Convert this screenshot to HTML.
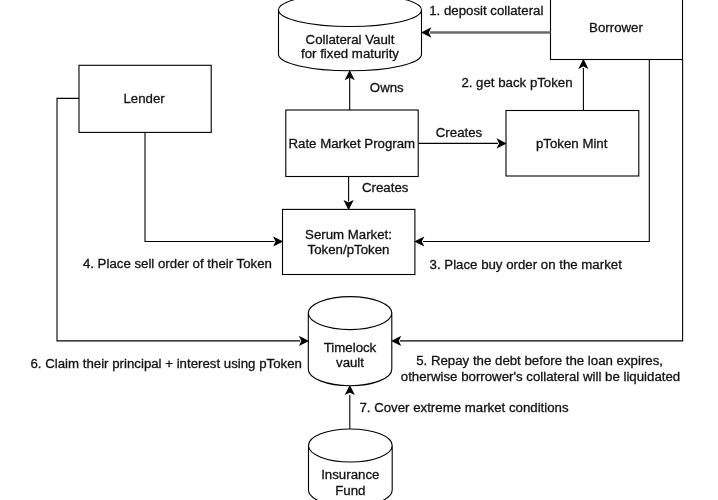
<!DOCTYPE html>
<html><head><meta charset="utf-8">
<style>
html,body{margin:0;padding:0;background:#fff;width:718px;height:500px;overflow:hidden}
svg{position:absolute;left:0;top:0;display:block;will-change:transform}
text{font-family:"Liberation Sans",sans-serif;font-size:13.25px;fill:#111;stroke:#111;stroke-width:0.3px}
</style></head><body>
<svg width="718" height="500" viewBox="0 0 718 500">
<g fill="none" stroke="#000" stroke-width="1.1">
<!-- Collateral vault cylinder -->
<path d="M278.5,10 A71.5,16.5 0 0 1 421.5,10 L421.5,54.3 A71.5,16.5 0 0 1 278.5,54.3 Z M278.5,10 A71.5,16.5 0 0 0 421.5,10" fill="#fff"/>
<!-- Borrower -->
<rect x="550.5" y="-6.5" width="132" height="66" fill="#fff"/>
<!-- Lender -->
<rect x="79" y="65.3" width="132.2" height="67.1" fill="#fff"/>
<!-- Rate Market Program -->
<rect x="285.8" y="110" width="132.4" height="66.5" fill="#fff"/>
<!-- pToken Mint -->
<rect x="506" y="110.5" width="132.8" height="65.5" fill="#fff"/>
<!-- Serum -->
<rect x="282.5" y="209.4" width="132.4" height="65.1" fill="#fff"/>
<!-- Timelock cylinder -->
<path d="M308.3,313.1 A41.75,16.5 0 0 1 391.8,313.1 L391.8,369.2 A41.75,16.5 0 0 1 308.3,369.2 Z M308.3,313.1 A41.75,16.5 0 0 0 391.8,313.1" fill="#fff"/>
<!-- Insurance cylinder -->
<path d="M308.5,445.5 A41.85,16.5 0 0 1 392.2,445.5 L392.2,490 A41.85,16.5 0 0 1 308.5,490 Z M308.5,445.5 A41.85,16.5 0 0 0 392.2,445.5" fill="#fff"/>

<!-- edges -->
<path d="M550.5,32.5 L430,32.5" stroke-width="2.4" stroke="#6a6a6a"/>
<path d="M583.4,110.5 L583.4,68"/>
<path d="M349.7,110 L349.7,78"/>
<path d="M418.3,143.4 L498,143.4"/>
<path d="M348.6,176.5 L348.6,201.5"/>
<path d="M145,132.4 L145,241.5 L274.5,241.5"/>
<path d="M649.3,59.5 L649.3,241.5 L423,241.5"/>
<path d="M79,98.4 L57,98.4 L57,340.9 L300.3,340.9"/>
<path d="M682.6,59.5 L682.6,340.9 L399.8,340.9"/>
<path d="M349.8,428.9 L349.8,394.7"/>
</g>
<g fill="#000" stroke="#000" stroke-width="1.1" stroke-linejoin="miter">
<!-- arrowheads: classic -->
<path d="M422.3,32.5 L430.2,28.5 L428.2,32.5 L430.2,36.5 Z"/>
<path d="M583.4,60 L579.55,67.7 L583.4,65.8 L587.25,67.7 Z"/>
<path d="M349.7,71.3 L345.85,79 L349.7,77.1 L353.55,79 Z"/>
<path d="M505.5,143.4 L497.8,139.55 L499.7,143.4 L497.8,147.25 Z"/>
<path d="M348.6,208.9 L344.75,201.2 L348.6,203.1 L352.45,201.2 Z"/>
<path d="M282,241.5 L274.3,237.65 L276.2,241.5 L274.3,245.35 Z"/>
<path d="M415.4,241.5 L423.1,237.65 L421.2,241.5 L423.1,245.35 Z"/>
<path d="M307.8,340.9 L300.1,337.05 L302,340.9 L300.1,344.75 Z"/>
<path d="M392.3,340.9 L400,337.05 L398.1,340.9 L400,344.75 Z"/>
<path d="M349.8,386.2 L345.95,393.9 L349.8,392 L353.65,393.9 Z"/>
</g>
<g text-anchor="middle" dominant-baseline="central">
<text x="350" y="39.6">Collateral Vault</text>
<text x="350" y="53.9">for fixed maturity</text>
<text x="616" y="27">Borrower</text>
<text x="486.3" y="10">1. deposit collateral</text>
<text x="517" y="82.6">2. get back pToken</text>
<text x="144.1" y="98.2">Lender</text>
<text x="351.8" y="143.9">Rate Market Program</text>
<text x="386.8" y="87">Owns</text>
<text x="459" y="132.4">Creates</text>
<text x="571.7" y="143.6">pToken Mint</text>
<text x="385.2" y="187.3">Creates</text>
<text x="348.5" y="234">Serum Market:</text>
<text x="348.5" y="249.7">Token/pToken</text>
<text x="177.4" y="263.4">4. Place sell order of their Token</text>
<text x="525.7" y="264">3. Place buy order on the market</text>
<text x="350" y="347.6">Timelock</text>
<text x="350" y="362.6">vault</text>
<text x="539.6" y="360.8">5. Repay the debt before the loan expires,</text>
<text x="540.5" y="376.2">otherwise borrower's collateral will be liquidated</text>
<text x="166.2" y="363.5">6. Claim their principal + interest using pToken</text>
<text x="464" y="407">7. Cover extreme market conditions</text>
<text x="350.3" y="474.7">Insurance</text>
<text x="350.3" y="490">Fund</text>
</g>
</svg>
</body></html>
